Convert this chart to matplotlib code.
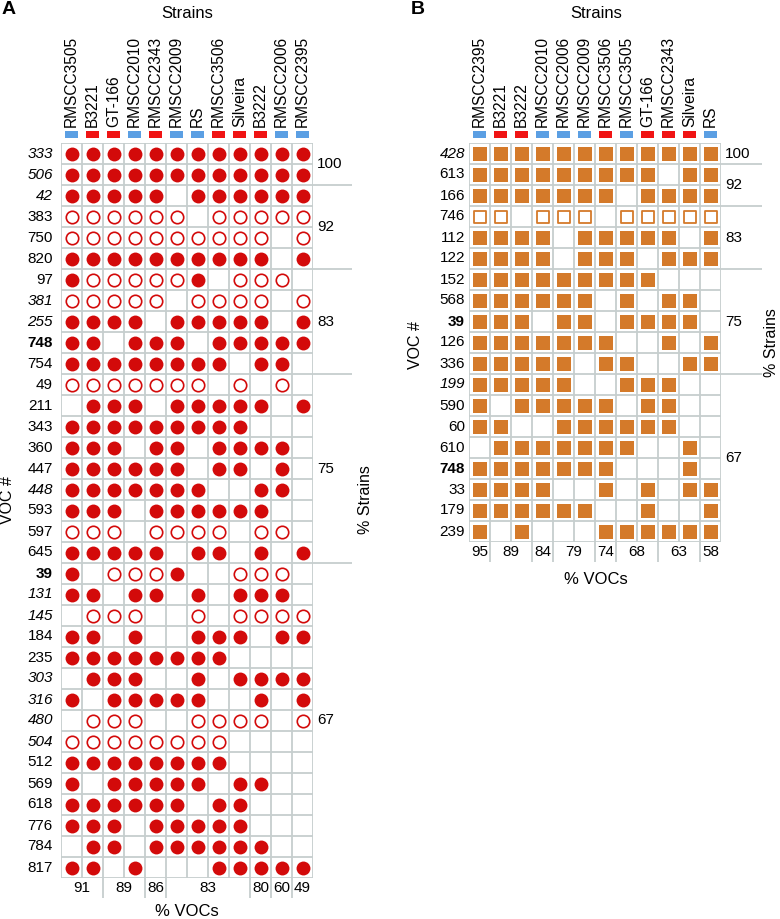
import matplotlib
matplotlib.use('Agg')
import matplotlib.pyplot as plt
import numpy as np

plt.rcParams['font.family'] = ['Liberation Sans', 'DejaVu Sans']

W, H = 780, 919

# ---------------- Panel A data ----------------
strains_A = ['RMSCC3505', 'B3221', 'GT-166', 'RMSCC2010', 'RMSCC2343', 'RMSCC2009',
             'RS', 'RMSCC3506', 'Silveira', 'B3222', 'RMSCC2006', 'RMSCC2395']
origin_A = ['b', 'r', 'r', 'b', 'r', 'b', 'b', 'r', 'r', 'r', 'b', 'b']
vocs_A = ['333', '506', '42', '383', '750', '820', '97', '381', '255', '748', '754',
          '49', '211', '343', '360', '447', '448', '593', '597', '645',
          '39', '131', '145', '184', '235', '303', '316', '480', '504', '512',
          '569', '618', '776', '784', '817']
style_A = ['i', 'i', 'i', 'n', 'n', 'n', 'n', 'i', 'i', 'b', 'n',
           'n', 'n', 'n', 'n', 'n', 'i', 'n', 'n', 'n',
           'b', 'i', 'i', 'n', 'n', 'i', 'i', 'i', 'i', 'n',
           'n', 'n', 'n', 'n', 'n']
# 1 = filled, 2 = open, 0 = absent
matrix_A = [
    [1, 1, 1, 1, 1, 1, 1, 1, 1, 1, 1, 1],
    [1, 1, 1, 1, 1, 1, 1, 1, 1, 1, 1, 1],
    [1, 1, 1, 1, 1, 0, 1, 1, 1, 1, 1, 1],
    [2, 2, 2, 2, 2, 2, 0, 2, 2, 2, 2, 2],
    [2, 2, 2, 2, 2, 2, 2, 2, 2, 2, 0, 2],
    [1, 1, 1, 1, 1, 1, 1, 1, 1, 1, 0, 1],
    [1, 2, 2, 2, 2, 2, 1, 0, 2, 2, 2, 0],
    [2, 2, 2, 2, 2, 0, 2, 2, 2, 2, 0, 2],
    [1, 1, 1, 1, 0, 1, 1, 1, 1, 1, 0, 1],
    [1, 1, 0, 1, 1, 1, 0, 1, 1, 1, 1, 1],
    [1, 1, 1, 1, 1, 1, 1, 1, 0, 1, 1, 0],
    [2, 2, 2, 2, 2, 2, 2, 0, 2, 0, 2, 0],
    [0, 1, 1, 1, 0, 1, 1, 1, 1, 1, 0, 1],
    [1, 1, 1, 1, 1, 1, 1, 1, 1, 0, 0, 0],
    [1, 1, 1, 0, 1, 1, 0, 1, 1, 1, 1, 0],
    [1, 1, 1, 1, 1, 1, 0, 1, 1, 0, 1, 0],
    [1, 1, 1, 1, 1, 1, 1, 0, 0, 1, 1, 0],
    [1, 1, 1, 0, 1, 1, 1, 1, 1, 1, 0, 0],
    [2, 2, 2, 0, 2, 2, 2, 2, 0, 2, 2, 0],
    [1, 1, 1, 1, 1, 0, 1, 1, 0, 1, 0, 1],
    [1, 0, 2, 2, 2, 1, 0, 0, 2, 2, 2, 0],
    [1, 1, 0, 1, 1, 0, 1, 0, 1, 1, 1, 0],
    [0, 2, 2, 2, 0, 0, 2, 0, 2, 2, 2, 2],
    [1, 1, 0, 1, 0, 0, 1, 1, 1, 0, 1, 1],
    [1, 1, 1, 1, 1, 1, 1, 1, 0, 0, 0, 0],
    [0, 1, 1, 1, 0, 0, 1, 0, 1, 1, 1, 1],
    [1, 0, 1, 1, 1, 1, 1, 0, 0, 1, 0, 1],
    [0, 2, 2, 2, 0, 0, 2, 2, 2, 2, 0, 2],
    [2, 2, 2, 2, 2, 2, 2, 2, 0, 0, 0, 0],
    [1, 1, 1, 1, 1, 1, 1, 1, 0, 0, 0, 0],
    [1, 0, 1, 1, 1, 1, 1, 0, 1, 1, 0, 0],
    [1, 1, 1, 1, 1, 1, 0, 1, 1, 0, 0, 0],
    [1, 1, 1, 0, 1, 1, 1, 1, 1, 0, 0, 0],
    [0, 1, 1, 0, 1, 1, 1, 1, 1, 1, 0, 0],
    [1, 1, 0, 1, 0, 0, 0, 1, 1, 1, 1, 1],
]
strain_pct_A = [100, 92, 83, 75, 67]
strain_pct_rows_A = [2, 4, 5, 9, 15]
voc_pct_A = [91, 89, 86, 83, 80, 60, 49]
voc_pct_cols_A = [2, 2, 1, 4, 1, 1, 1]

# ---------------- Panel B data ----------------
strains_B = ['RMSCC2395', 'B3221', 'B3222', 'RMSCC2010', 'RMSCC2006', 'RMSCC2009',
             'RMSCC3506', 'RMSCC3505', 'GT-166', 'RMSCC2343', 'Silveira', 'RS']
origin_B = ['b', 'r', 'r', 'b', 'b', 'b', 'r', 'b', 'r', 'r', 'r', 'b']
vocs_B = ['428', '613', '166', '746', '112', '122', '152', '568', '39', '126', '336',
          '199', '590', '60', '610', '748', '33', '179', '239']
style_B = ['i', 'n', 'n', 'n', 'n', 'n', 'n', 'n', 'b', 'n', 'n',
           'i', 'n', 'n', 'n', 'b', 'n', 'n', 'n']
matrix_B = [
    [1, 1, 1, 1, 1, 1, 1, 1, 1, 1, 1, 1],
    [1, 1, 1, 1, 1, 1, 1, 1, 1, 0, 1, 1],
    [1, 1, 1, 1, 1, 1, 1, 0, 1, 1, 1, 1],
    [2, 2, 0, 2, 2, 2, 0, 2, 2, 2, 2, 2],
    [1, 1, 1, 1, 0, 1, 1, 1, 1, 1, 0, 1],
    [1, 1, 1, 1, 0, 1, 1, 1, 0, 1, 1, 1],
    [1, 1, 1, 1, 1, 1, 1, 1, 1, 0, 0, 0],
    [1, 1, 1, 1, 1, 1, 0, 1, 0, 1, 1, 0],
    [1, 1, 1, 0, 1, 1, 0, 1, 1, 1, 1, 0],
    [1, 1, 1, 1, 1, 1, 1, 0, 0, 1, 0, 1],
    [1, 1, 1, 1, 1, 0, 1, 1, 0, 0, 1, 1],
    [1, 1, 1, 1, 1, 0, 0, 1, 1, 1, 0, 0],
    [1, 0, 1, 1, 1, 1, 1, 0, 1, 1, 0, 0],
    [1, 1, 0, 0, 1, 1, 1, 1, 1, 1, 0, 0],
    [0, 1, 1, 1, 1, 1, 1, 1, 0, 0, 1, 0],
    [1, 1, 1, 1, 1, 1, 1, 0, 0, 0, 1, 0],
    [1, 1, 1, 1, 0, 0, 1, 0, 1, 0, 1, 1],
    [1, 1, 1, 1, 1, 1, 0, 0, 1, 0, 0, 1],
    [1, 0, 1, 0, 0, 0, 1, 1, 1, 1, 1, 1],
]
strain_pct_B = [100, 92, 83, 75, 67]
strain_pct_rows_B = [1, 2, 3, 5, 8]
voc_pct_B = [95, 89, 84, 79, 74, 68, 63, 58]
voc_pct_cols_B = [1, 2, 1, 2, 1, 2, 2, 1]

# ---------------- styling ----------------
GRID = '#c6cece'
RED = '#d30a0a'
ORANGE = '#d47a2a'
TAG = {'b': '#5b9fe3', 'r': '#f01414'}
FS = 11
CELL = 21.0  # px per cell


def fx(x):
    return x / W


def fy(y):
    return 1 - y / H


def draw_panel(ax, strains, origin, vocs, style, matrix, spct, srows, vpct, vcols,
               marker, color, s_fill, s_open, lw_open, label_gap, sep_len):
    m = np.array(matrix)
    nrow, ncol = m.shape
    ax.set_xlim(-0.5, ncol - 0.5)
    ax.set_ylim(nrow - 0.5, -0.5)
    ax.axis('off')
    # grid
    ax.vlines(np.arange(ncol + 1) - 0.5, -0.5, nrow - 0.5, color=GRID, lw=1.3, zorder=1)
    ax.hlines(np.arange(nrow + 1) - 0.5, -0.5, ncol - 0.5, color=GRID, lw=1.3, zorder=1)
    # markers
    yf, xf = np.where(m == 1)
    ax.scatter(xf, yf, s=s_fill, marker=marker, c=color, linewidths=0, zorder=3)
    yo, xo = np.where(m == 2)
    ax.scatter(xo, yo, s=s_open, marker=marker, facecolors='white', edgecolors=color,
               linewidths=lw_open, zorder=3)
    # strain origin tags
    ax.bar(np.arange(ncol), height=0.29, bottom=-1.05, width=0.66,
           color=[TAG[o] for o in origin], clip_on=False, zorder=2)
    # strain names
    for i, name in enumerate(strains):
        ax.text(i, -1.27, name, rotation=90, ha='center', va='bottom', fontsize=11.2,
                clip_on=False)
    # voc labels
    for j, (v, st) in enumerate(zip(vocs, style)):
        ax.text(-0.5 - label_gap / CELL, j, v, ha='right', va='center', fontsize=FS,
                fontstyle='italic' if st == 'i' else 'normal',
                fontweight='bold' if st == 'b' else 'normal')
    # % strains groups
    start = 0
    for k, (p, n) in enumerate(zip(spct, srows)):
        ax.text(ncol - 0.5 + 4 / CELL, start + (n - 1) / 2, str(p), ha='left',
                va='center', fontsize=FS, clip_on=False)
        start += n
        if k < len(spct) - 1:
            ax.hlines(start - 0.5, ncol - 0.5, ncol - 0.5 + sep_len / CELL, color=GRID,
                      lw=1.3, clip_on=False)
    # % VOCs groups
    start = 0
    for k, (p, n) in enumerate(zip(vpct, vcols)):
        ax.text(start + (n - 1) / 2, nrow - 0.5 + 10.5 / CELL, str(p), ha='center',
                va='center', fontsize=FS, clip_on=False)
        start += n
        if k < len(vpct) - 1:
            ax.vlines(start - 0.5, nrow - 0.5, nrow - 0.5 + 20 / CELL, color=GRID,
                      lw=1.3, clip_on=False)


fig = plt.figure(figsize=(W / 100, H / 100), dpi=100)

topA, nA = 143, len(vocs_A)
axA = fig.add_axes([fx(61), fy(topA + nA * CELL), 12 * CELL / W, nA * CELL / H])
draw_panel(axA, strains_A, origin_A, vocs_A, style_A, matrix_A, strain_pct_A,
           strain_pct_rows_A, voc_pct_A, voc_pct_cols_A, 'o', RED, 100, 80, 1.2, 8, 39)

topB, nB = 143, len(vocs_B)
axB = fig.add_axes([fx(469), fy(topB + nB * CELL), 12 * CELL / W, nB * CELL / H])
draw_panel(axB, strains_B, origin_B, vocs_B, style_B, matrix_B, strain_pct_B,
           strain_pct_rows_B, voc_pct_B, voc_pct_cols_B, 's', ORANGE, 92, 70, 1.3, 4, 41)

# titles & axis labels
fig.text(fx(2), fy(10), 'A', fontsize=14, fontweight='bold', ha='left', va='center')
fig.text(fx(411), fy(10), 'B', fontsize=14, fontweight='bold', ha='left', va='center')
fig.text(fx(187), fy(13), 'Strains', fontsize=12, ha='center', va='center')
fig.text(fx(596), fy(13), 'Strains', fontsize=12, ha='center', va='center')
fig.text(fx(187), fy(911), '% VOCs', fontsize=12, ha='center', va='center')
fig.text(fx(596), fy(579), '% VOCs', fontsize=12, ha='center', va='center')
fig.text(fx(8), fy(500), 'VOC #', fontsize=11.5, rotation=90, ha='center', va='center')
fig.text(fx(415), fy(345), 'VOC #', fontsize=11.5, rotation=90, ha='center', va='center')
fig.text(fx(365), fy(500), '% Strains', fontsize=11.5, rotation=90, ha='center', va='center')
fig.text(fx(772), fy(343), '% Strains', fontsize=11.5, rotation=90, ha='center', va='center')

fig.savefig('out.png', dpi=100)
